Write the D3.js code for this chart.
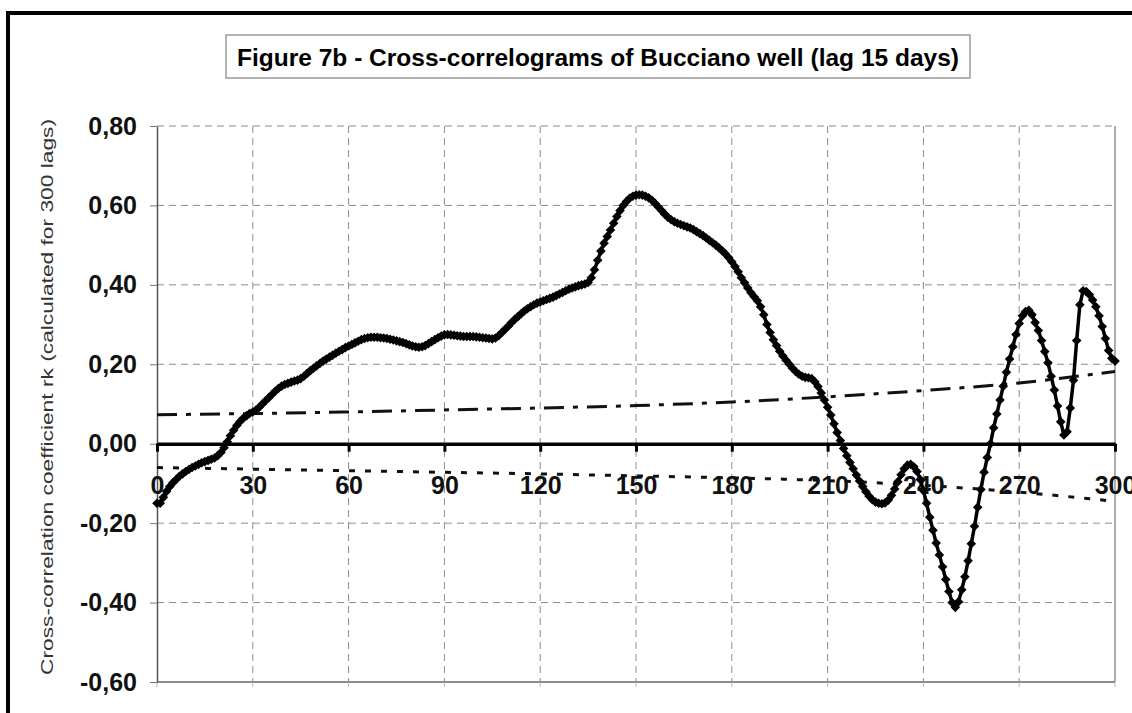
<!DOCTYPE html>
<meta charset="utf-8">
<style>
body { margin: 0; background: #fff; }
svg { display: block; font-family: "Liberation Sans", Arial, sans-serif; }
.grid line { stroke: #8c8c8c; stroke-width: 1; stroke-dasharray: 7,5; }
.yaxis text, .xaxis text { font-size: 25px; font-weight: bold; fill: #111; font-family: "Liberation Sans", Arial, sans-serif; }
</style>
<body>
<script src="https://d3js.org/d3.v7.min.js"></script>
<script>

// cross-correlation coefficient rk, one value per lag 0..300
const rk = [
  -0.150,-0.150,-0.135,-0.120,-0.108,-0.098,-0.090,-0.082,-0.076,-0.070,
  -0.065,-0.060,-0.056,-0.052,-0.048,-0.045,-0.042,-0.039,-0.036,-0.030,
  -0.022,-0.010,0.005,0.020,0.034,0.046,0.056,0.064,0.070,0.076,
  0.080,0.085,0.092,0.100,0.108,0.116,0.124,0.132,0.139,0.145,
  0.149,0.152,0.155,0.158,0.160,0.164,0.170,0.177,0.184,0.190,
  0.196,0.202,0.208,0.213,0.218,0.223,0.228,0.233,0.237,0.242,
  0.246,0.250,0.254,0.258,0.262,0.265,0.267,0.268,0.268,0.268,
  0.267,0.266,0.265,0.263,0.261,0.259,0.257,0.255,0.252,0.249,
  0.246,0.244,0.243,0.244,0.247,0.252,0.257,0.262,0.267,0.271,
  0.274,0.275,0.274,0.273,0.272,0.271,0.270,0.270,0.270,0.270,
  0.269,0.268,0.267,0.266,0.265,0.264,0.266,0.272,0.280,0.288,
  0.296,0.305,0.313,0.320,0.327,0.334,0.340,0.345,0.350,0.354,
  0.357,0.360,0.363,0.366,0.369,0.373,0.377,0.381,0.385,0.389,
  0.392,0.395,0.398,0.400,0.402,0.406,0.418,0.438,0.462,0.485,
  0.505,0.522,0.538,0.555,0.572,0.587,0.600,0.610,0.618,0.623,
  0.626,0.627,0.626,0.623,0.619,0.613,0.605,0.596,0.587,0.578,
  0.570,0.564,0.559,0.555,0.552,0.549,0.546,0.543,0.539,0.534,
  0.529,0.524,0.518,0.512,0.506,0.500,0.493,0.486,0.478,0.469,
  0.458,0.446,0.433,0.418,0.405,0.392,0.380,0.370,0.360,0.345,
  0.325,0.300,0.280,0.262,0.247,0.233,0.221,0.210,0.200,0.190,
  0.182,0.175,0.170,0.167,0.166,0.164,0.156,0.144,0.128,0.110,
  0.092,0.072,0.050,0.028,0.008,-0.012,-0.030,-0.047,-0.063,-0.079,
  -0.094,-0.108,-0.121,-0.132,-0.141,-0.147,-0.150,-0.151,-0.149,-0.142,
  -0.130,-0.114,-0.096,-0.078,-0.063,-0.054,-0.052,-0.058,-0.070,-0.090,
  -0.118,-0.150,-0.185,-0.218,-0.250,-0.280,-0.310,-0.342,-0.372,-0.400,
  -0.412,-0.398,-0.368,-0.335,-0.295,-0.252,-0.208,-0.160,-0.115,-0.072,
  -0.035,0.000,0.040,0.075,0.110,0.145,0.180,0.213,0.244,0.275,
  0.303,0.322,0.333,0.336,0.325,0.305,0.285,0.260,0.232,0.204,
  0.170,0.135,0.095,0.055,0.022,0.030,0.090,0.160,0.260,0.350,
  0.385,0.383,0.375,0.362,0.345,0.322,0.295,0.265,0.235,0.215,
  0.208
];

// confidence limits, read at every 30 lags
const limitLags  = [0, 30, 60, 90, 120, 150, 180, 210, 240, 270, 300];
const upperLimit = [0.073, 0.076, 0.080, 0.085, 0.090, 0.096, 0.105, 0.118, 0.134, 0.153, 0.182];
const lowerLimit = [-0.060, -0.064, -0.068, -0.072, -0.076, -0.081, -0.086, -0.093, -0.105, -0.122, -0.145];

const xTicks = [0, 30, 60, 90, 120, 150, 180, 210, 240, 270, 300];
const yTicks = [-0.6, -0.4, -0.2, 0, 0.2, 0.4, 0.6, 0.8];

const titleText = "Figure 7b - Cross-correlograms of Bucciano well (lag 15 days)";
const yTitleText = "Cross-correlation coefficient rk (calculated for 300 lags)";

const width = 1132, height = 713;
const plot = {left: 157, right: 1115, top: 126, bottom: 682};

const x = d3.scaleLinear().domain([0, 300]).range([plot.left, plot.right]);
const y = d3.scaleLinear().domain([-0.6, 0.8]).range([plot.bottom, plot.top]);

const comma = d3.formatLocale({decimal: ",", thousands: ".", grouping: [3], currency: ["", ""], minus: "-"}).format(".2f");

const svg = d3.select("body").append("svg")
    .attr("width", width)
    .attr("height", height);

// outer frame (only top and left visible)
svg.append("rect")
    .attr("x", 8).attr("y", 13)
    .attr("width", 1300).attr("height", 900)
    .attr("fill", "none")
    .attr("stroke", "#000")
    .attr("stroke-width", 4);

// title box
svg.append("rect")
    .attr("x", 226).attr("y", 35)
    .attr("width", 744).attr("height", 43)
    .attr("fill", "#fff")
    .attr("stroke", "#9a9a9a")
    .attr("stroke-width", 1.5);
svg.append("text")
    .attr("x", 598).attr("y", 66)
    .attr("text-anchor", "middle")
    .attr("font-size", 23)
    .attr("font-weight", "bold")
    .attr("textLength", 722)
    .attr("lengthAdjust", "spacingAndGlyphs")
    .text(titleText);

// y axis title
svg.append("text")
    .attr("transform", "translate(53,397) rotate(-90)")
    .attr("text-anchor", "middle")
    .attr("font-size", 17)
    .attr("fill", "#333")
    .attr("textLength", 556)
    .attr("lengthAdjust", "spacingAndGlyphs")
    .text(yTitleText);

// grid
const grid = svg.append("g").attr("class", "grid");
grid.selectAll("line.v")
    .data(xTicks.filter(d => d > 0 && d < 300))
  .enter().append("line")
    .attr("class", "v")
    .attr("x1", d => x(d)).attr("x2", d => x(d))
    .attr("y1", plot.top).attr("y2", plot.bottom);
grid.selectAll("line.h")
    .data(yTicks.filter(d => d !== 0 && d > -0.6))
  .enter().append("line")
    .attr("class", "h")
    .attr("x1", plot.left).attr("x2", plot.right)
    .attr("y1", d => y(d)).attr("y2", d => y(d));

// bottom and right border of plot area
svg.append("line")
    .attr("x1", plot.left).attr("x2", plot.right)
    .attr("y1", plot.bottom).attr("y2", plot.bottom)
    .attr("stroke", "#666").attr("stroke-width", 1.5);
svg.append("line")
    .attr("x1", plot.right).attr("x2", plot.right)
    .attr("y1", plot.top).attr("y2", plot.bottom)
    .attr("stroke", "#777").attr("stroke-width", 1.2);
// faint ticks under the bottom border
svg.append("g").selectAll("line")
    .data(xTicks)
  .enter().append("line")
    .attr("x1", d => x(d)).attr("x2", d => x(d))
    .attr("y1", plot.bottom).attr("y2", plot.bottom + 5)
    .attr("stroke", "#bbb");

// y axis
const yAxis = svg.append("g")
    .attr("class", "yaxis")
    .attr("transform", `translate(${plot.left},0)`)
    .call(d3.axisLeft(y).tickValues(yTicks).tickSize(7).tickSizeOuter(0).tickPadding(13).tickFormat(comma));
yAxis.select(".domain").attr("stroke", "#555").attr("stroke-width", 1.5);
yAxis.selectAll(".tick line").attr("stroke", "#777");

// confidence limits
const limitLine = d3.line().curve(d3.curveMonotoneX);
svg.append("path")
    .attr("d", limitLine(limitLags.map((d, i) => [x(d), y(upperLimit[i])])))
    .attr("fill", "none")
    .attr("stroke", "#111")
    .attr("stroke-width", 3)
    .attr("stroke-dasharray", "20,9,5,9");
svg.append("path")
    .attr("d", limitLine(limitLags.map((d, i) => [x(d), y(lowerLimit[i])])))
    .attr("fill", "none")
    .attr("stroke", "#111")
    .attr("stroke-width", 3)
    .attr("stroke-dasharray", "6,10");

// x axis on the zero line
const xAxis = svg.append("g")
    .attr("class", "xaxis")
    .attr("transform", `translate(0,${y(0)})`)
    .call(d3.axisBottom(x).tickValues(xTicks).tickSize(8).tickSizeOuter(0).tickPadding(25));
xAxis.select(".domain").attr("stroke", "#000").attr("stroke-width", 3.5);
xAxis.selectAll(".tick line").attr("stroke", "#000").attr("stroke-width", 3);

// rk series
const pts = rk.map((v, i) => [x(i), y(v)]);
svg.append("path")
    .attr("d", d3.line()(pts))
    .attr("fill", "none")
    .attr("stroke", "#000")
    .attr("stroke-width", 3.5)
    .attr("stroke-linejoin", "round");
const m = 4.8;
svg.append("g").selectAll("path")
    .data(pts)
  .enter().append("path")
    .attr("d", d => `M${d[0]},${d[1] - m}L${d[0] + m},${d[1]}L${d[0]},${d[1] + m}L${d[0] - m},${d[1]}Z`)
    .attr("fill", "#000");

</script>
</body>
